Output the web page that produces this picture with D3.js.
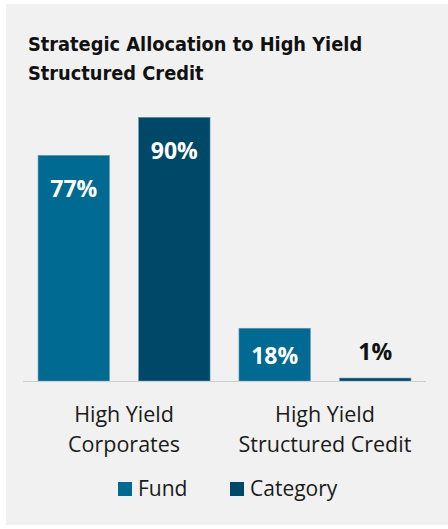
<!DOCTYPE html>
<html>
<head>
<meta charset="utf-8">
<script src="https://cdn.jsdelivr.net/npm/d3@7"></script>
<style>
    html, body { margin: 0; padding: 0; background: #ffffff; }
</style>
</head>
<body>
<div id="chart"></div>
<script>
// Data
const categories = ["High Yield|Corporates", "High Yield|Structured Credit"];
const series = ["Fund", "Category"];
const fundValues = [77, 18];
const categoryValues = [90, 1];
const colors = { Fund: "#006a92", Category: "#004867" };

const rows = categories.map((c, i) => ({
    category: c,
    values: [
        { key: "Fund", value: fundValues[i] },
        { key: "Category", value: categoryValues[i] }
    ]
}));

// Chart dimensions
const width = 448;
const height = 529;

const svg = d3.select("#chart")
    .append("svg")
    .attr("width", width)
    .attr("height", height);

// Card background
svg.append("rect")
    .attr("x", 6)
    .attr("y", 4)
    .attr("width", width - 6)
    .attr("height", 521)
    .attr("fill", "#f1f1f1");

// Title
svg.append("text")
    .attr("x", 28)
    .attr("y", 51)
    .style("font-family", "'DejaVu Sans Condensed', 'DejaVu Sans', sans-serif")
    .style("font-stretch", "condensed")
    .style("font-size", "19.8px")
    .style("font-weight", "bold")
    .style("fill", "#111")
    .selectAll("tspan")
    .data(["Strategic Allocation to High Yield", "Structured Credit"])
    .join("tspan")
    .attr("x", 28)
    .attr("dy", (d, i) => i === 0 ? 0 : 29)
    .text(d => d);

// Scales
const x0 = d3.scaleBand()
    .domain(categories)
    .range([23, 426])
    .paddingInner(0.144)
    .paddingOuter(0.075);

const x1 = d3.scaleBand()
    .domain(series)
    .range([0, x0.bandwidth()])
    .paddingInner(0.29);

const y = d3.scaleLinear()
    .domain([0, 100])
    .range([381, 88]);

// Bars
const groups = svg.append("g")
    .selectAll("g")
    .data(rows)
    .join("g")
    .attr("transform", d => `translate(${x0(d.category)},0)`);

groups.selectAll("rect")
    .data(d => d.values)
    .join("rect")
    .attr("x", d => x1(d.key))
    .attr("y", d => y(d.value))
    .attr("width", x1.bandwidth())
    .attr("height", d => y(0) - y(d.value))
    .attr("fill", d => colors[d.key])
    .attr("stroke", "#5f97b2")
    .attr("stroke-width", 0.6);

// Value labels
groups.selectAll("text.value")
    .data(d => d.values)
    .join("text")
    .attr("class", "value")
    .attr("x", d => x1(d.key) + x1.bandwidth() / 2)
    .attr("y", d => {
        const h = y(0) - y(d.value);
        if (h > 80) return y(d.value) + 42;
        if (h > 25) return y(d.value) + h / 2 + 9;
        return y(d.value) - 18;
    })
    .attr("text-anchor", "middle")
    .style("font-family", "'Open Sans', sans-serif")
    .style("font-size", "23px")
    .style("font-weight", "bold")
    .style("fill", d => (y(0) - y(d.value)) > 25 ? "#ffffff" : "#111")
    .text(d => d.value + "%");

// Baseline
svg.append("line")
    .attr("x1", 23)
    .attr("x2", 426)
    .attr("y1", y(0) + 0.5)
    .attr("y2", y(0) + 0.5)
    .attr("stroke", "#cfcfcf")
    .attr("stroke-width", 1);

// X axis labels
const xLabels = svg.append("g")
    .selectAll("text")
    .data(categories)
    .join("text")
    .attr("text-anchor", "middle")
    .attr("y", 422)
    .style("font-family", "'Open Sans', sans-serif")
    .style("font-size", "21.5px")
    .style("fill", "#1a1a1a");

xLabels.selectAll("tspan")
    .data(d => d.split("|").map(t => ({ t, c: d })))
    .join("tspan")
    .attr("x", d => x0(d.c) + x0.bandwidth() / 2)
    .attr("dy", (d, i) => i === 0 ? 0 : 30)
    .text(d => d.t);

// Legend
const legendX = [118, 230];
const legend = svg.append("g")
    .selectAll("g")
    .data(series)
    .join("g")
    .attr("transform", (d, i) => `translate(${legendX[i]}, 482)`);

legend.append("rect")
    .attr("width", 14)
    .attr("height", 14)
    .attr("fill", d => colors[d]);

legend.append("text")
    .attr("x", 20)
    .attr("y", 14)
    .style("font-family", "'Open Sans', sans-serif")
    .style("font-size", "21px")
    .style("fill", "#1a1a1a")
    .text(d => d);
</script>
</body>
</html>
